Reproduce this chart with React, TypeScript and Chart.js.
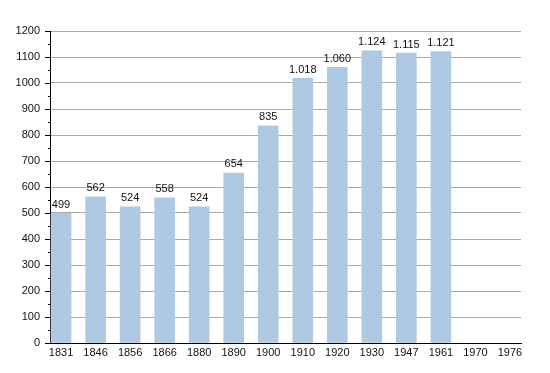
import React, { useEffect, useRef } from "react";
import { Chart, registerables } from "chart.js";

Chart.register(...registerables);

const years = ["1831", "1846", "1856", "1866", "1880", "1890", "1900", "1910", "1920", "1930", "1947", "1961", "1970", "1976"];
const population: (number | null)[] = [499, 562, 524, 558, 524, 654, 835, 1018, 1060, 1124, 1115, 1121, null, null];
const yMax = 1200;
const yStep = 50;

const FONT = "'Liberation Sans', Arial, Helvetica, sans-serif";

function fmt(v: number): string {
  const s = String(Math.round(v));
  return s.replace(/\B(?=(\d{3})+(?!\d))/g, ".");
}

const tickPlugin = {
  id: "customTicks",
  afterDatasetsDraw(chart: any) {
    const { ctx, chartArea } = chart;
    const y = chart.scales.y;
    ctx.save();
    ctx.strokeStyle = "#000";
    ctx.lineWidth = 1;
    for (let v = 0; v <= yMax; v += yStep) {
      const py = Math.round(y.getPixelForValue(v)) + 0.5;
      const len = v % 100 === 0 ? 5 : 2;
      ctx.beginPath();
      ctx.moveTo(chartArea.left - len, py);
      ctx.lineTo(chartArea.left, py);
      ctx.stroke();
    }
    const meta = chart.getDatasetMeta(0);
    ctx.fillStyle = "#111";
    ctx.font = `11px ${FONT}`;
    ctx.textAlign = "center";
    ctx.textBaseline = "bottom";
    meta.data.forEach((el: any, i: number) => {
      const v = population[i];
      if (v == null) return;
      ctx.fillText(fmt(v), el.x, el.y - 3);
    });
    ctx.restore();
  },
};

export default function App() {
  const ref = useRef<HTMLCanvasElement | null>(null);
  useEffect(() => {
    if (!ref.current) return;
    const chart = new Chart(ref.current, {
      type: "bar",
      data: {
        datasets: [
          {
            data: years.map((_, i) => ({ x: i, y: population[i] })) as any,
            backgroundColor: "#b0c9e2",
            borderWidth: 0,
            barThickness: 20,
          },
        ],
      },
      options: {
        animation: false,
        responsive: false,
        maintainAspectRatio: false,
        layout: { padding: { top: 31, right: 29, left: 0, bottom: 0 } },
        plugins: { legend: { display: false }, tooltip: { enabled: false } },
        scales: {
          x: {
            type: "linear",
            offset: false,
            min: -0.32,
            max: 13.32,
            afterBuildTicks: (scale: any) => {
              scale.ticks = years.map((_, i) => ({ value: i }));
            },
            afterFit: (scale: any) => {
              scale.height = 30;
            },
            ticks: {
              autoSkip: false,
              maxRotation: 0,
              padding: 3,
              color: "#111",
              font: { family: FONT, size: 11 },
              callback: (v: any) => years[v as number] ?? "",
            },
            grid: { display: false, drawTicks: false },
            border: { color: "#000", width: 1 },
          },
          y: {
            min: 0,
            max: yMax,
            afterBuildTicks: (scale: any) => {
              const t = [];
              for (let v = 0; v <= yMax; v += yStep) t.push({ value: v });
              scale.ticks = t;
            },
            afterFit: (scale: any) => {
              scale.width = 50;
            },
            ticks: {
              padding: 10,
              color: "#111",
              font: { family: FONT, size: 11 },
              callback: (v: any) => ((v as number) % 100 === 0 ? String(v) : ""),
            },
            grid: {
              drawTicks: false,
              color: (c: any) => (c.tick && c.tick.value % 100 === 0 ? "#a9a9a9" : "#e6e6e6"),
            },
            border: { color: "#000", width: 1 },
          },
        },
      },
      plugins: [tickPlugin],
    });
    return () => chart.destroy();
  }, []);
  return (
    <div style={{ position: "fixed", left: 0, top: 0, width: 550, height: 373, background: "#fff" }}>
      <canvas ref={ref} width={550} height={373} style={{ width: 550, height: 373 }} />
    </div>
  );
}
